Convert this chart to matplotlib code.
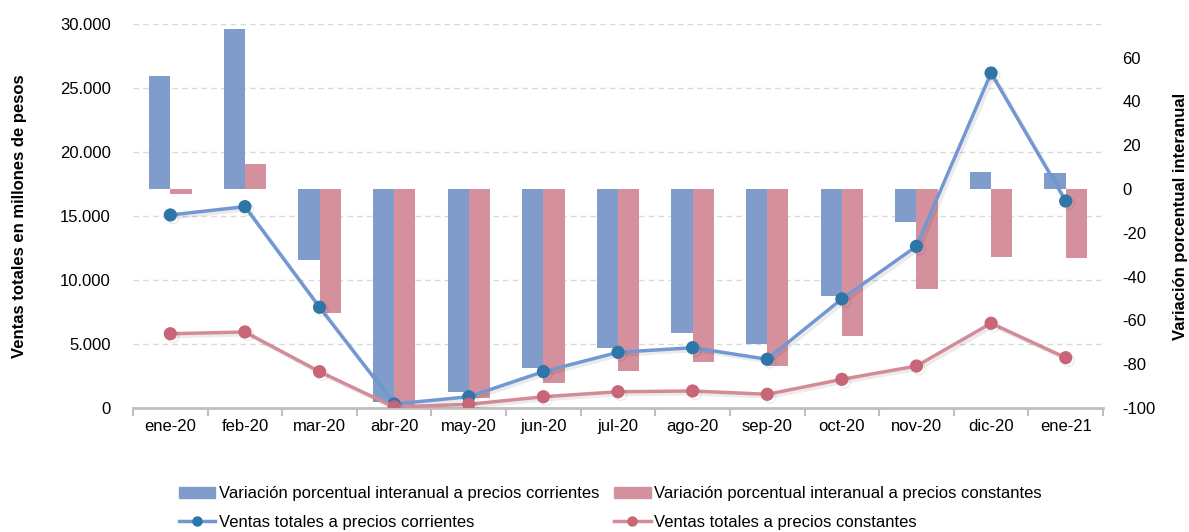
import numpy as np
import matplotlib
matplotlib.use('Agg')
import matplotlib.pyplot as plt
import matplotlib.patheffects as pe
from matplotlib.lines import Line2D
from matplotlib.ticker import FuncFormatter

plt.rcParams['font.family'] = ['Liberation Sans', 'DejaVu Sans']
plt.rcParams['axes.unicode_minus'] = False

meses = ['ene-20', 'feb-20', 'mar-20', 'abr-20', 'may-20', 'jun-20', 'jul-20',
         'ago-20', 'sep-20', 'oct-20', 'nov-20', 'dic-20', 'ene-21']
var_corrientes = [51.6, 73.0, -32.4, -97.3, -92.7, -81.9, -72.6, -65.8, -70.8, -48.9, -15.1, 7.6, 7.3]
var_constantes = [-2.3, 11.4, -56.6, -98.8, -95.4, -88.4, -83.0, -78.8, -80.8, -67.1, -45.6, -31.0, -31.4]
ventas_corrientes = [15080, 15730, 7870, 310, 880, 2840, 4350, 4710, 3810, 8520, 12630, 26170, 16170]
ventas_constantes = [5800, 5940, 2840, 80, 290, 880, 1270, 1330, 1070, 2240, 3280, 6620, 3930]

c_bar_blue = '#7F9CCB'
c_bar_pink = '#D4919D'
c_line_blue = '#7397D2'
c_mark_blue = '#2E75A8'
c_line_pink = '#D48B98'
c_mark_pink = '#C86577'

fig = plt.figure(figsize=(11.89, 5.32), dpi=100)
ax = fig.add_axes([133/1189, 1-408/532, (1103-133)/1189, 384/532])
x = np.arange(len(meses))

# left axis: grid + labels
ax.set_ylim(0, 30000)
ax.set_xlim(-0.5, len(meses) - 0.5)
ax.set_yticks(np.arange(0, 30001, 5000))
ax.yaxis.set_major_formatter(FuncFormatter(lambda v, p: f'{int(v):,}'.replace(',', '.')))
ax.grid(axis='y', color='#D9D9D9', linestyle=(0, (4, 3)), linewidth=1)
ax.set_axisbelow(True)
for s in ['top', 'left', 'right']:
    ax.spines[s].set_visible(False)
ax.spines['bottom'].set_color('#BFBFBF')
ax.spines['bottom'].set_linewidth(2)
ax.set_xticks(x)
ax.set_xticklabels(meses)
ax.set_xticks(np.arange(-0.5, len(meses), 1), minor=True)
ax.tick_params(axis='x', which='major', length=0, pad=8, labelsize=12)
ax.tick_params(axis='x', which='minor', length=6, color='#BFBFBF', width=1.5)
ax.tick_params(axis='y', length=0, pad=16, labelsize=12)
ax.set_ylabel('Ventas totales en millones de pesos', fontsize=12, fontweight='bold')
ax.yaxis.set_label_coords(-0.109, 0.5)

# bars on right axis
axb = ax.twinx()
axb.set_ylim(-100, 75.3)
w = 0.285
axb.bar(x - w/2, var_corrientes, w, color=c_bar_blue)
axb.bar(x + w/2, var_constantes, w, color=c_bar_pink)
axb.set_yticks(np.arange(-100, 61, 20))
axb.tick_params(axis='y', length=0, pad=14, labelsize=12)
for s in axb.spines.values():
    s.set_visible(False)
axb.set_ylabel('Variación porcentual interanual', fontsize=12, fontweight='bold')
axb.yaxis.set_label_coords(1.072, 0.5)

# lines on top
axl = ax.twinx()
axl.set_ylim(0, 30000)
axl.axis('off')
shadow = [pe.SimpleLineShadow(offset=(2, -2), alpha=0.08, shadow_color='black'), pe.Normal()]
axl.plot(x, ventas_corrientes, color=c_line_blue, lw=2.5, marker='o', ms=8.5,
         mfc=c_mark_blue, mec=c_mark_blue, path_effects=shadow)
axl.plot(x, ventas_constantes, color=c_line_pink, lw=2.5, marker='o', ms=8.5,
         mfc=c_mark_pink, mec=c_mark_pink, path_effects=shadow)

handles = [
    plt.Rectangle((0, 0), 1, 1, color=c_bar_blue),
    Line2D([], [], color=c_line_blue, lw=2.5, marker='o', ms=6.5, mfc=c_mark_blue, mec=c_mark_blue),
    plt.Rectangle((0, 0), 1, 1, color=c_bar_pink),
    Line2D([], [], color=c_line_pink, lw=2.5, marker='o', ms=6.5, mfc=c_mark_pink, mec=c_mark_pink),
]
labels = ['Variación porcentual interanual a precios corrientes',
          'Ventas totales a precios corrientes',
          'Variación porcentual interanual a precios constantes',
          'Ventas totales a precios constantes']
fig.legend(handles, labels, ncol=2, loc='center', bbox_to_anchor=(610/1189, 1-508/532),
           frameon=False, fontsize=12, handlelength=2.2, handleheight=0.6, columnspacing=0.9,
           handletextpad=0.2, labelspacing=0.8)

fig.savefig('out.png', dpi=100)
